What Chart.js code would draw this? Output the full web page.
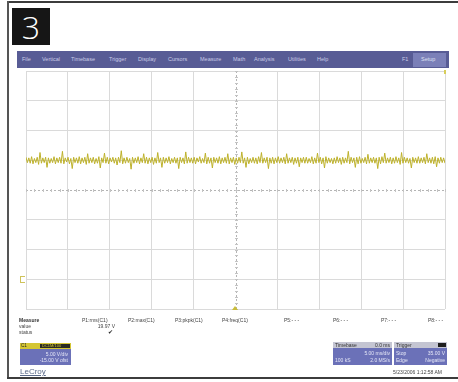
<!DOCTYPE html>
<html>
<head>
<meta charset="utf-8">
<script src="https://cdn.jsdelivr.net/npm/chart.js@4/dist/chart.umd.min.js"></script>
<style>
  html, body { margin: 0; padding: 0; background: #fff; }
  body { width: 458px; height: 382px; position: relative; overflow: hidden; font-family: "Liberation Sans", "DejaVu Sans", sans-serif; }
  .abs { position: absolute; }
  .frameTop { left: 7px; top: 1px; width: 451px; height: 2px; background: #3c3c3c; }
  .frameLeft { left: 7px; top: 1px; width: 2px; height: 378px; background: #555; }
  .frameBottom { left: 7px; top: 377px; width: 451px; height: 2px; background: #3c3c3c; }
  .num { left: 12px; top: 8px; width: 38px; height: 37px; background: #161616; color: #fff; font-size: 32px; line-height: 37px; text-align: center; font-family: "Open Sans", "DejaVu Sans", sans-serif; font-weight: 300; }
  .menu { left: 17px; top: 51px; width: 432px; height: 17px; background: #585c95; }
  .menu span { position: absolute; top: 5px; font-size: 5.5px; color: #c9cbe6; white-space: nowrap; }
  .setup { left: 396px; top: 2px; width: 33px; height: 14px; background: #7b80b8; }
  .t { position: absolute; font-size: 5px; color: #444; white-space: nowrap; line-height: 6px; }
  .box { position: absolute; background: #6b71b8; }
  .box .t { color: #e4e6f6; }
  .hdr { position: absolute; background: #c4c5d2; }
  #plot { position: absolute; left: 25px; top: 70px; }
</style>
</head>
<body>
<div class="abs frameTop"></div>
<div class="abs frameLeft"></div>
<div class="abs frameBottom"></div>
<div class="abs num">3</div>

<div class="abs menu">
  <span style="left:5px">File</span>
  <span style="left:25px">Vertical</span>
  <span style="left:54px">Timebase</span>
  <span style="left:92px">Trigger</span>
  <span style="left:121px">Display</span>
  <span style="left:151px">Cursors</span>
  <span style="left:183px">Measure</span>
  <span style="left:216px">Math</span>
  <span style="left:237px">Analysis</span>
  <span style="left:271px">Utilities</span>
  <span style="left:300px">Help</span>
  <span style="left:385px">F1</span>
  <div class="abs setup"></div>
  <span style="left:404px;color:#dfe1f3">Setup</span>
</div>

<canvas id="plot" width="421" height="240"></canvas>

<!-- channel / trigger markers -->
<div class="abs" style="left:20px;top:276px;width:4px;height:5px;border:1px solid #cfc35a;border-right:none;"></div>
<div class="abs" style="left:232px;top:306px;width:0;height:0;border-left:3px solid transparent;border-right:3px solid transparent;border-bottom:4px solid #c9bd3a;"></div>
<div class="abs" style="left:444px;top:70px;width:2px;height:4px;background:#d8ce5a;"></div>

<!-- measure table -->
<div class="t" style="left:19px;top:317px;font-weight:bold;color:#333">Measure</div>
<div class="t" style="left:19px;top:323px">value</div>
<div class="t" style="left:19px;top:329px">status</div>
<div class="t" style="left:82px;top:317px">P1:rms(C1)</div>
<div class="t" style="left:128px;top:317px">P2:max(C1)</div>
<div class="t" style="left:175px;top:317px">P3:pkpk(C1)</div>
<div class="t" style="left:222px;top:317px">P4:freq(C1)</div>
<div class="t" style="left:284px;top:317px">P5:- - -</div>
<div class="t" style="left:333px;top:317px">P6:- - -</div>
<div class="t" style="left:381px;top:317px">P7:- - -</div>
<div class="t" style="left:428px;top:317px">P8:- - -</div>
<div class="t" style="left:96px;top:323px;width:19px;text-align:right">19.97 V</div>
<div class="t" style="left:108px;top:329px;font-size:6px;color:#222">&#10004;</div>

<!-- channel box -->
<div class="hdr" style="left:20px;top:343px;width:51px;height:6px;background:#d4c634"></div>
<div class="abs" style="left:40px;top:344px;width:30px;height:4px;background:#2a2a20"></div>
<div class="t" style="left:21px;top:343px;font-size:4.5px;color:#222">C1</div>
<div class="t" style="left:42px;top:343px;font-size:4px;color:#d4c634">DC1M/100</div>
<div class="box" style="left:20px;top:349px;width:51px;height:16px">
  <div class="t" style="right:3px;top:2px">5.00 V/div</div>
  <div class="t" style="right:3px;top:8px">-15.00 V ofst</div>
</div>
<div class="t" style="left:20px;top:367px;font-size:8px;line-height:9px;color:#5a6a88;text-decoration:underline">LeCroy</div>

<!-- timebase box -->
<div class="hdr" style="left:333px;top:342px;width:59px;height:6px"></div>
<div class="t" style="left:335px;top:342px;color:#333">Timebase</div>
<div class="t" style="left:360px;top:342px;width:30px;text-align:right;color:#333">0.0 ms</div>
<div class="box" style="left:333px;top:348px;width:59px;height:17px">
  <div class="t" style="right:2px;top:2px">5.00 ms/div</div>
  <div class="t" style="left:2px;top:9px">100 kS</div>
  <div class="t" style="right:2px;top:9px">2.0 MS/s</div>
</div>
<!-- trigger box -->
<div class="hdr" style="left:394px;top:342px;width:53px;height:6px"></div>
<div class="t" style="left:396px;top:342px;color:#333">Trigger</div>
<div class="abs" style="left:438px;top:343px;width:8px;height:4px;background:#1e1e1e"></div>
<div class="box" style="left:394px;top:348px;width:53px;height:17px">
  <div class="t" style="left:2px;top:2px">Stop</div>
  <div class="t" style="right:2px;top:2px">35.00 V</div>
  <div class="t" style="left:2px;top:9px">Edge</div>
  <div class="t" style="right:2px;top:9px">Negative</div>
</div>
<div class="t" style="left:360px;top:369px;width:82px;text-align:right">5/23/2006 1:12:58 AM</div>

<script>
// scope settings (from the screen)
const timePerDiv = 5;      // ms/div
const voltsPerDiv = 5;     // V/div
const offsetVolts = -15;   // V ofst
const divsX = 10;
const divsY = 8;

// C1 trace samples, volts
const traceVolts = [
  20.5,19.6,20.4,19.5,20.6,19.4,20.3,19.6,20.5,19.3,21.3,19.5,20.4,19.6,20.5,18.8,20.4,19.5,20.3,19.6,
  20.6,19.4,20.4,19.6,20.5,19.5,21.5,19.4,20.4,19.7,20.5,19.4,20.3,18.6,20.5,19.6,20.4,19.5,20.6,19.4,
  20.4,19.6,20.5,19.3,21.1,19.5,20.4,19.6,20.5,19.4,20.3,19.5,20.6,18.7,20.4,19.6,21.2,19.5,20.5,19.4,
  20.4,19.7,20.5,19.5,20.4,19.2,20.5,19.6,21.6,19.4,20.4,19.5,20.5,19.6,20.3,18.5,20.5,19.5,20.4,19.6,
  20.6,19.4,20.4,19.6,21.1,19.5,20.5,19.4,20.4,19.6,20.5,19.3,20.4,19.5,21.3,19.6,20.4,18.8,20.5,19.5,
  20.4,19.6,20.6,19.4,20.3,19.6,20.5,19.5,20.4,18.6,20.5,19.6,20.4,19.4,21.4,19.5,20.5,19.6,20.4,19.5,
  20.5,19.4,20.4,19.7,20.6,19.5,20.3,19.6,21.2,19.4,20.5,19.5,20.4,18.7,20.5,19.6,20.4,19.5,20.6,19.4,
  20.4,19.6,20.5,19.5,21.1,19.4,20.4,19.6,20.5,19.3,20.4,19.5,20.5,19.6,21.4,19.5,20.4,18.8,20.5,19.4,
  20.3,19.6,20.5,19.5,20.4,19.4,20.6,19.6,21.3,19.5,20.4,19.6,20.5,18.6,20.4,19.5,20.5,19.4,20.4,19.6,
  20.6,19.5,20.4,19.6,20.5,19.4,21.1,19.5,20.4,19.6,20.5,19.3,20.4,19.5,20.5,18.9,20.4,19.6,20.5,19.5,
  20.5,19.5,20.3,19.6,20.6,19.4,20.4,19.5,21.2,19.6,20.5,19.4,20.4,18.7,20.6,19.5,20.4,19.6,20.3,19.4,
  20.4,19.5,20.6,19.6,20.4,19.3,20.5,19.5,20.4,19.6,21.5,19.4,20.5,19.6,20.4,18.8,20.5,19.4,20.6,19.5,
  20.3,19.6,20.5,19.4,21.0,19.5,20.4,19.6,20.5,19.5,20.4,18.6,20.5,19.4,20.6,19.6,21.2,19.5,20.4,19.6,
  20.5,19.4,20.4,19.5,20.6,19.6,20.4,19.3,21.3,19.5,20.5,19.6,20.4,19.5,20.3,18.7,20.5,19.6,20.4,19.5,
  20.6,19.5,20.4,19.6,20.5,19.4,21.1,19.6,20.4,19.5,20.5,19.4,20.6,18.9,20.4,19.5,20.5,19.6,20.4,19.5
];

const tMin = -timePerDiv * divsX / 2;
const tMax = timePerDiv * divsX / 2;
const vCenter = -offsetVolts;
const vMin = vCenter - voltsPerDiv * divsY / 2;
const vMax = vCenter + voltsPerDiv * divsY / 2;

// sample times follow the timebase
const tStep = (tMax - tMin) / (traceVolts.length - 1);
const points = traceVolts.map((v, i) => ({ x: tMin + i * tStep, y: v }));

// dashed center axes with small sub-division ticks
const centerAxes = {
  id: 'centerAxes',
  beforeDatasetsDraw(chart) {
    const { ctx, chartArea, scales } = chart;
    const cx = Math.round(scales.x.getPixelForValue(0)) + 0.5;
    const cy = Math.round(scales.y.getPixelForValue(vCenter)) + 0.5;
    ctx.save();
    ctx.strokeStyle = '#b4b4b4';
    ctx.lineWidth = 1;
    ctx.setLineDash([2, 2]);
    ctx.beginPath();
    ctx.moveTo(cx, chartArea.top); ctx.lineTo(cx, chartArea.bottom);
    ctx.moveTo(chartArea.left, cy); ctx.lineTo(chartArea.right, cy);
    ctx.stroke();
    ctx.setLineDash([]);
    ctx.strokeStyle = '#c4c4c4';
    ctx.beginPath();
    for (let t = tMin; t <= tMax; t += timePerDiv / 5) {
      const px = Math.round(scales.x.getPixelForValue(t)) + 0.5;
      ctx.moveTo(px, cy - 1.5); ctx.lineTo(px, cy + 1.5);
    }
    for (let v = vMin; v <= vMax; v += voltsPerDiv / 5) {
      const py = Math.round(scales.y.getPixelForValue(v)) + 0.5;
      ctx.moveTo(cx - 1.5, py); ctx.lineTo(cx + 1.5, py);
    }
    ctx.stroke();
    ctx.restore();
  }
};

const gridColor = (center) => (c) => (c.tick && c.tick.value === center ? 'rgba(0,0,0,0)' : '#dadada');

new Chart(document.getElementById('plot'), {
  type: 'line',
  data: {
    datasets: [{
      data: points,
      borderColor: '#bdb12a',
      borderWidth: 1,
      pointRadius: 0,
      tension: 0,
      fill: false
    }]
  },
  options: {
    responsive: false,
    animation: false,
    layout: { padding: 1 },
    plugins: { legend: { display: false }, tooltip: { enabled: false } },
    scales: {
      x: {
        type: 'linear', min: tMin, max: tMax,
        ticks: { display: false, stepSize: timePerDiv },
        grid: { color: gridColor(0), drawTicks: false },
        border: { display: false }
      },
      y: {
        min: vMin, max: vMax,
        ticks: { display: false, stepSize: voltsPerDiv },
        grid: { color: gridColor(vCenter), drawTicks: false },
        border: { display: false }
      }
    }
  },
  plugins: [centerAxes]
});
</script>
</body>
</html>
